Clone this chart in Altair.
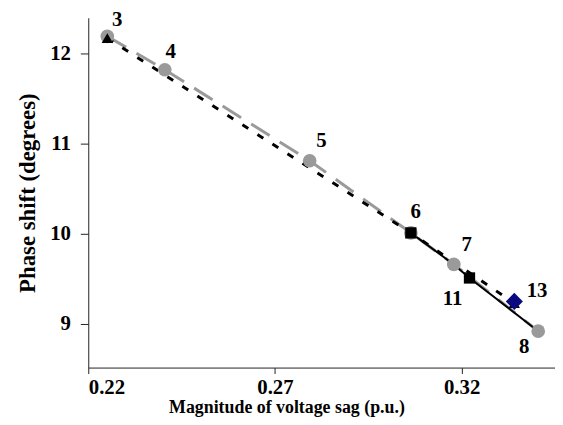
import altair as alt
import pandas as pd

# Gray dashed series (cases 3-8)
gray_case = ["3", "4", "5", "6", "7", "8"]
gray_x = [0.2251, 0.2405, 0.2793, 0.3064, 0.3179, 0.3405]
gray_y = [12.19, 11.82, 10.81, 10.01, 9.66, 8.92]

# Black dotted series (triangles)
dot_case = ["3", "6", "13"]
dot_x = [0.2251, 0.3064, 0.3341]
dot_y = [12.17, 10.01, 9.23]

# Black solid series (squares)
solid_case = ["6", "7", "11", "8"]
solid_x = [0.3064, 0.3179, 0.3221, 0.3405]
solid_y = [10.01, 9.66, 9.51, 8.92]
square_case = ["6", "11"]
square_x = [0.3064, 0.3221]
square_y = [10.01, 9.51]

# Blue diamond
diamond_x = [0.3341]
diamond_y = [9.25]

# Labels
label_text = ["3", "4", "5", "6", "7", "11", "13", "8"]
label_x = [0.2251, 0.2405, 0.2793, 0.3064, 0.3179, 0.3221, 0.3341, 0.3405]
label_y = [12.19, 11.82, 10.81, 10.01, 9.66, 9.51, 9.24, 8.92]
label_off = [(10, -16), (6, -18), (12, -20), (5, -21), (13, -20), (-17, 21), (23, -11), (-14, 16)]

FONT = "Liberation Serif"

xs = alt.Scale(domain=[0.22, 0.345], nice=False, zero=False)
ys = alt.Scale(domain=[8.516, 12.396], nice=False, zero=False)

xaxis = alt.Axis(values=[0.22, 0.27, 0.32], format=".2f", title="Magnitude of voltage sag (p.u.)",
                 grid=False, domainColor="#222", tickColor="#222", tickSize=6,
                 labelFont=FONT, labelFontSize=21, labelFontWeight="bold", labelColor="black",
                 labelPadding=3, titleFont=FONT, titleFontSize=18, titleFontWeight="bold",
                 titleColor="black", titlePadding=1, titleX=200)
yaxis = alt.Axis(values=[9, 10, 11, 12], format="d", title="Phase shift (degrees)",
                 grid=False, domainColor="#222", tickColor="#222", tickSize=8,
                 labelFont=FONT, labelFontSize=21, labelFontWeight="bold", labelColor="black",
                 labelPadding=10, titleFont=FONT, titleFontSize=23, titleFontWeight="bold",
                 titleColor="black", titlePadding=10)

gray_df = pd.DataFrame({"x": gray_x, "y": gray_y, "case": gray_case})
dot_df = pd.DataFrame({"x": dot_x, "y": dot_y, "case": dot_case})
solid_df = pd.DataFrame({"x": solid_x, "y": solid_y, "case": solid_case})
sq_df = pd.DataFrame({"x": square_x, "y": square_y, "case": square_case})
dia_df = pd.DataFrame({"x": diamond_x, "y": diamond_y})

X = alt.X("x:Q", scale=xs, axis=xaxis)
Y = alt.Y("y:Q", scale=ys, axis=yaxis)

gray_line = alt.Chart(gray_df).mark_line(color="#9a9a9a", strokeWidth=3, strokeDash=[22, 12]).encode(
    x=X, y=Y, order="x:Q")
dot_line = alt.Chart(dot_df).mark_line(color="black", strokeWidth=3, strokeDash=[7, 11]).encode(
    x=X, y=Y, order="x:Q")
solid_line = alt.Chart(solid_df).mark_line(color="black", strokeWidth=2).encode(
    x=X, y=Y, order="x:Q")
gray_pts = alt.Chart(gray_df).mark_point(shape="circle", filled=True, color="#9a9a9a", size=190, opacity=1).encode(
    x=X, y=Y)
tri_pts = alt.Chart(dot_df).mark_point(shape="triangle-up", filled=True, color="black", size=130, opacity=1).encode(
    x=X, y=Y)
sq_pts = alt.Chart(sq_df).mark_point(shape="square", filled=True, color="black", size=130, opacity=1).encode(
    x=X, y=Y)
dia_pts = alt.Chart(dia_df).mark_point(shape="diamond", filled=True, color="#0a0a80", size=300, opacity=1).encode(
    x=X, y=Y)

layers = [gray_line, dot_line, solid_line, gray_pts, tri_pts, sq_pts, dia_pts]
for t, lx, ly, (dx, dy) in zip(label_text, label_x, label_y, label_off):
    df = pd.DataFrame({"x": [lx], "y": [ly], "t": [t]})
    layers.append(
        alt.Chart(df).mark_text(font=FONT, fontSize=21, fontWeight="bold", color="black",
                                dx=dx, dy=dy, align="center", baseline="middle").encode(
            x=X, y=Y, text="t:N")
    )

chart = alt.layer(*layers).properties(
    width=471, height=353,
    autosize=alt.AutoSizeParams(type="none"),
    padding={"left": 81, "top": 8, "right": 0, "bottom": 48},
    background="white",
).configure_view(stroke=None)

chart.save("out.html", embed_options={"renderer": "svg", "actions": False})
